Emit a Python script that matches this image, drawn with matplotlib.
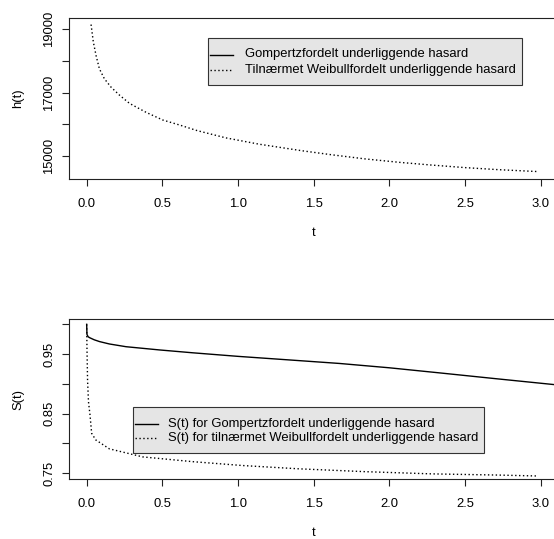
import numpy as np
import matplotlib.pyplot as plt
from matplotlib.patches import Rectangle

plt.rcParams['font.family'] = ['Liberation Sans', 'DejaVu Sans']
plt.rcParams['font.size'] = 9.35

# Hazard for the approximated Weibull (Gompertz hazard lies outside the window)
t_h = [0.029, 0.044, 0.062, 0.084, 0.117, 0.161, 0.216, 0.283, 0.393, 0.503,
       0.614, 0.73, 0.92, 1.14, 1.42, 1.62, 1.84, 2.07, 2.28, 2.50, 2.72, 2.98]
h_weib = [19150, 18600, 18170, 17750, 17435, 17170, 16920, 16656, 16372, 16130,
          15972, 15795, 15565, 15365, 15160, 15030, 14900, 14790, 14705, 14625,
          14560, 14500]

# Survival curves
t_sg = [0.0, 0.002, 0.01, 0.02, 0.05, 0.085, 0.15, 0.26, 0.48, 0.70,
        1.0, 1.35, 1.67, 2.0, 2.33, 2.7, 3.12]
s_gomp = [1.0, 0.983, 0.979, 0.9775, 0.974, 0.971, 0.967, 0.9624, 0.957, 0.9522,
          0.9462, 0.940, 0.9343, 0.927, 0.9185, 0.9088, 0.898]
t_sw = [0.0, 0.002, 0.006, 0.012, 0.022, 0.033, 0.06, 0.15, 0.37, 0.70,
        1.03, 1.40, 1.84, 2.28, 2.72, 2.97]
s_weib = [1.0, 0.96, 0.905, 0.87, 0.848, 0.817, 0.806, 0.791, 0.7775, 0.7695,
          0.763, 0.7575, 0.7527, 0.749, 0.747, 0.7455]

x_ticks = [0.0, 0.5, 1.0, 1.5, 2.0, 2.5, 3.0]
h_ticks = [15000, 16000, 17000, 18000, 19000]
h_labels = ['15000', '', '17000', '', '19000']
s_ticks = [0.75, 0.80, 0.85, 0.90, 0.95, 1.00]
s_labels = ['0.75', '', '0.85', '', '0.95', '']

leg_top = ['Gompertzfordelt underliggende hasard',
           'Tilnærmet Weibullfordelt underliggende hasard']
leg_bot = ['S(t) for Gompertzfordelt underliggende hasard',
           'S(t) for tilnærmet Weibullfordelt underliggende hasard']

W, H = 554, 539
fig = plt.figure(figsize=(W / 100, H / 100), dpi=100)

def add_ax(left, top, right, bottom):
    return fig.add_axes([left / W, 1 - bottom / H, (right - left) / W, (bottom - top) / H])

dotted = (0, (1, 1.8))
edge = '#222222'

def style(ax, yticks, ylabels, ylabel):
    ax.set_xlim(-0.12, 3.12)
    ax.set_xticks(x_ticks)
    ax.set_xticklabels([f'{v:.1f}' for v in x_ticks])
    ax.set_yticks(yticks)
    ax.set_yticklabels(ylabels, rotation=90, va='center')
    ax.tick_params(direction='out', length=5, width=0.8, color=edge)
    ax.tick_params(axis='x', pad=9.0)
    ax.tick_params(axis='y', pad=4.5)
    for s in ax.spines.values():
        s.set_color(edge)
        s.set_linewidth(0.8)
    ax.set_xlabel('t')
    ax.xaxis.set_label_coords(0.5, -0.30)
    ax.set_ylabel(ylabel, va='center')
    ax.yaxis.set_label_coords(-0.103, 0.5)

# ---- hazard panel ----
ax1 = add_ax(68.5, 18.3, 559, 179)
ax1.plot(t_h, h_weib, color='black', lw=1, linestyle=dotted)
ax1.set_ylim(14265, 19347)
style(ax1, h_ticks, h_labels, 'h(t)')

# ---- survival panel ----
ax2 = add_ax(68.5, 319, 559, 479)
ax2.plot(t_sg, s_gomp, color='black', lw=1)
ax2.plot(t_sw, s_weib, color='black', lw=1, linestyle=dotted)
ax2.set_ylim(0.7404, 1.0089)
style(ax2, s_ticks, s_labels, 'S(t)')

# ---- R-style legends, drawn on a pixel overlay ----
ov = fig.add_axes([0, 0, 1, 1])
ov.set_xlim(0, W)
ov.set_ylim(H, 0)
ov.axis('off')

def r_legend(box, rows, hx, tx, labels):
    x0, y0, x1, y1 = box
    ov.add_patch(Rectangle((x0, y0), x1 - x0, y1 - y0, facecolor='#e5e5e5',
                           edgecolor='#333333', lw=0.8))
    styles = ['-', dotted]
    for y, lab, ls in zip(rows, labels, styles):
        ov.plot(hx, [y, y], color='black', lw=1, linestyle=ls)
        ov.text(tx, y, lab, va='center', ha='left')

r_legend((208, 38, 522, 85), [54.5, 69.5], [210, 233], 245, leg_top)
r_legend((133, 407, 484, 453), [424, 437.5], [135, 158], 168, leg_bot)

fig.savefig('out.png', dpi=100)
